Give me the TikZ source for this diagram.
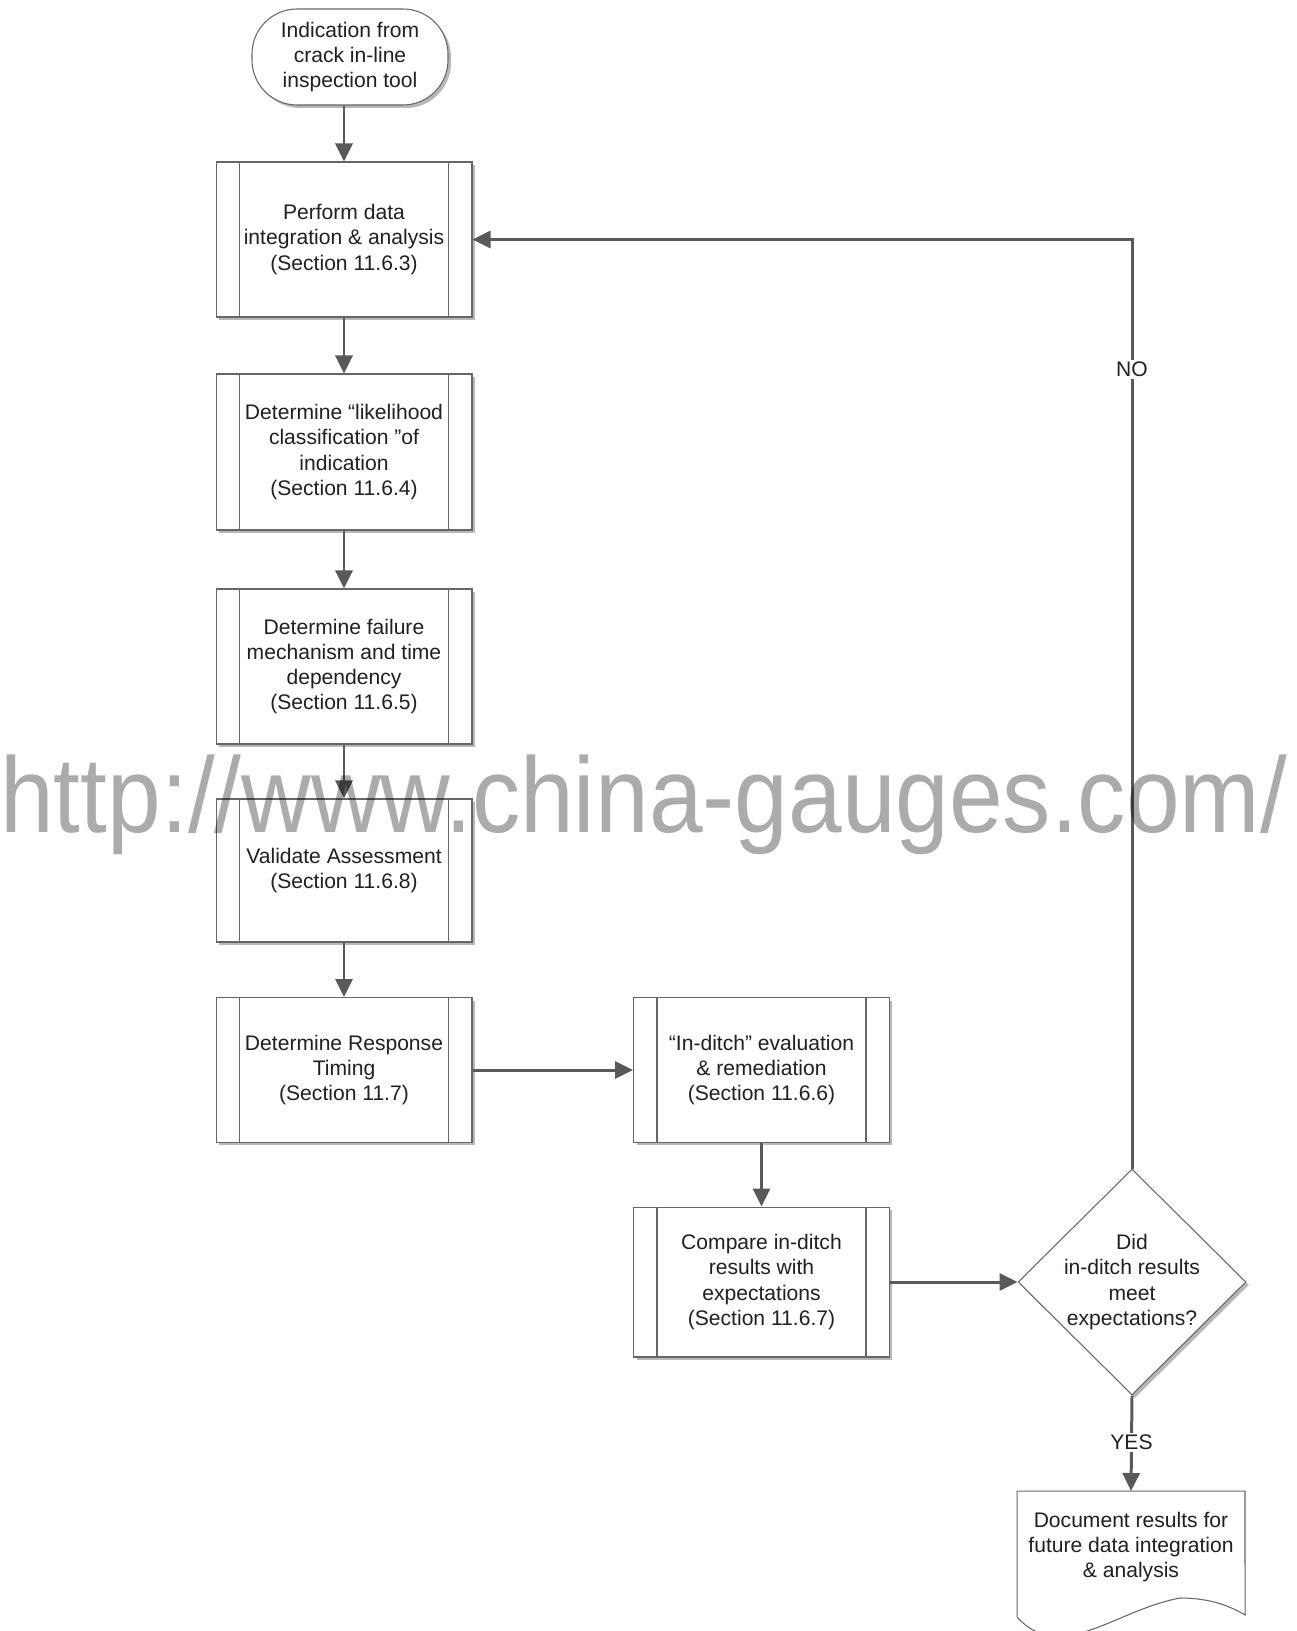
\documentclass[tikz,border=0pt]{standalone}
\usepackage{fontspec}
\setmainfont{Liberation Sans}
\usetikzlibrary{arrows.meta,shapes.geometric,shadows}
\pgfdeclarelayer{background}
\pgfsetlayers{background,main}

\definecolor{linegray}{HTML}{595959}
\definecolor{edgegray}{HTML}{666666}
\definecolor{txtgray}{HTML}{231F20}
\definecolor{markgray}{HTML}{ABABAB}

\begin{document}
\begin{tikzpicture}[x=0.02cm,y=-0.02cm,
    font=\fontsize{12}{14.4}\selectfont, text=txtgray,
    boxshadow/.style={drop shadow={shadow xshift=0.06cm,shadow yshift=-0.06cm,fill=black!28,opacity=1}},
    procbox/.style={draw=edgegray,line width=0.6pt,fill=white,boxshadow,align=center,minimum width=5.12cm,inner sep=2pt},
    startbox/.style={draw=edgegray,line width=0.6pt,fill=white,boxshadow,align=center,rounded corners=0.9cm,minimum width=3.92cm,minimum height=1.92cm},
    decision/.style={diamond,draw=edgegray,line width=0.6pt,fill=white,boxshadow,align=center,inner sep=-2.5pt,minimum width=4.56cm,minimum height=4.52cm},
    docshadow/.style={fill=black!28,shift={(3,3)}},
    docface/.style={fill=white,draw=edgegray,line width=0.6pt},
    flow/.style={draw=linegray,line width=1.7pt,-{Triangle[length=0.36cm,width=0.34cm]}},
    lbl/.style={fill=white,inner sep=1pt}]
    \useasboundingbox (0,0) rectangle (1296,1631);

    % start
    \node[startbox] (start) at (350,57) {Indication from\\crack in-line\\inspection tool};

    % left column
    \node[procbox,minimum height=3.1cm] (b1) at (344,239.5) {Perform data\\integration \& analysis\\(Section 11.6.3)};
    \node[procbox,minimum height=3.12cm] (b2) at (344,452) {Determine “likelihood\\classification ”of\\indication\\(Section 11.6.4)};
    \node[procbox,minimum height=3.1cm] (b3) at (344,666.5) {Determine failure\\mechanism and time\\dependency\\(Section 11.6.5)};
    \node[procbox,minimum height=2.86cm] (b4) at (344,870.5) {Validate Assessment\\(Section 11.6.8)};
    \node[procbox,minimum height=2.9cm] (b5) at (344,1070) {Determine Response\\Timing\\(Section 11.7)};

    % middle column
    \node[procbox,minimum height=2.9cm] (b6) at (761.5,1070) {“In-ditch” evaluation\\\& remediation\\(Section 11.6.6)};
    \node[procbox,minimum height=3.0cm] (b7) at (761.5,1282) {Compare in-ditch\\results with\\expectations\\(Section 11.6.7)};

    % decision and document
    \node[decision] (dec) at (1132,1282) {Did\\in-ditch results\\meet\\expectations?};
    \node[align=center,inner sep=0pt,outer sep=0pt,minimum width=4.56cm,minimum height=2.24cm] (doc) at (1131,1547) {Document results for\\future data integration\\\& analysis};
    \begin{pgfonlayer}{background}
        \foreach \st in {docshadow,docface}
            \path[\st] (doc.north west) -- ([shift={(0,14)}]doc.south west)
                .. controls ([shift={(43,62)}]doc.south west) and ([shift={(98,7)}]doc.south west) .. ([shift={(163,-5)}]doc.south west)
                .. controls ([shift={(193,-5)}]doc.south west) and ([shift={(213,3)}]doc.south west) .. ([shift={(228,12)}]doc.south west)
                -- (doc.north east) -- cycle;
    \end{pgfonlayer}

    % side bars of the process boxes
    \foreach \n in {b1,b2,b3,b4,b5,b6,b7}
        \draw[edgegray,line width=0.6pt] ([xshift=0.48cm]\n.north west) -- ([xshift=0.48cm]\n.south west)
            ([xshift=-0.48cm]\n.north east) -- ([xshift=-0.48cm]\n.south east);

    % connectors
    \draw[flow] (start.south -| b1.north) -- (b1.north);
    \draw[flow] (b1.south) -- (b2.north);
    \draw[flow] (b2.south) -- (b3.north);
    \draw[flow] (b3.south) -- (b4.north);
    \draw[flow] (b4.south) -- (b5.north);
    \draw[flow] (b5.east) -- (b6.west);
    \draw[flow] (b6.south) -- (b7.north);
    \draw[flow] (b7.east) -- (dec.west);
    \draw[flow] (dec.south) -- (doc.north) node[lbl,pos=0.49] {YES};
    \draw[flow] (dec.north) |- (b1.east) node[lbl,pos=0.43] {NO};

    % watermark
    \begin{scope}[blend mode=multiply]
        \node[anchor=base west,inner sep=0pt,text=markgray,font=\fontsize{61}{61}\selectfont] (mark) at (0,832) {\scalebox{0.9}[1]{http://www.china-gauges.com/}};
    \end{scope}
\end{tikzpicture}
\end{document}
